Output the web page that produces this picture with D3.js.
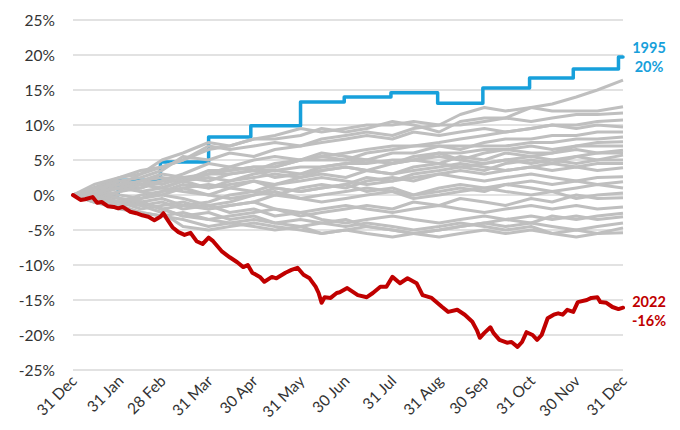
<!DOCTYPE html>
<html>
<head>
<meta charset="utf-8">
<script src="https://cdn.jsdelivr.net/npm/d3@7"></script>
<style>
  body { margin: 0; background: #fff; }
  text { font-family: Lato, "Open Sans", sans-serif; }
  .tick { font-size: 15.5px; fill: #333; }
</style>
</head>
<body>
<script>
// y-axis ticks (%)
const yTicks = [-25, -20, -15, -10, -5, 0, 5, 10, 15, 20, 25];
// x-axis ticks: day of year and label
const monthDays = [0, 31, 59, 90, 120, 151, 181, 212, 243, 273, 304, 334, 365];
const monthLabels = ["31 Dec", "31 Jan", "28 Feb", "31 Mar", "30 Apr", "31 May", "30 Jun",
                     "31 Jul", "31 Aug", "30 Sep", "31 Oct", "30 Nov", "31 Dec"];

// 1995: step series (day the level starts, level %)
const blueDays = [0, 30, 58, 90, 118, 151, 180, 211, 242, 272, 303, 332, 362, 365];
const blueVals = [0, 2.1, 4.7, 8.3, 9.9, 13.3, 14.0, 14.6, 13.1, 15.3, 16.7, 18.0, 19.7, 19.7];

// 2022
const redDays = [0, 5, 8, 13, 16, 19, 23, 27, 30, 33, 38, 42, 46, 50, 54, 58, 60, 62, 66, 70,
  74, 78, 82, 86, 90, 93, 99, 104, 109, 113, 116, 119, 124, 127, 132, 135, 141, 145, 149, 153,
  157, 161, 163, 165, 167, 171, 175, 177, 182, 189, 195, 199, 204, 208, 212, 217, 222, 228, 232,
  238, 245, 249, 255, 260, 265, 268, 270, 273, 277, 279, 283, 288, 291, 295, 298, 301, 305, 308,
  311, 315, 319, 322, 325, 328, 332, 335, 341, 344, 348, 350, 354, 358, 362, 365];
const redVals = [0, -0.7, -0.6, -0.3, -1.1, -1.0, -1.6, -1.7, -1.9, -1.7, -2.4, -2.6, -2.9, -3.1,
  -3.6, -3.1, -2.6, -3.3, -4.6, -5.3, -5.7, -5.4, -6.6, -7.0, -6.1, -6.6, -8.1, -8.9, -9.6, -10.3,
  -10.0, -11.1, -11.7, -12.4, -11.7, -11.9, -11.1, -10.7, -10.4, -11.4, -11.9, -13.1, -14.0, -15.4,
  -14.6, -14.7, -14.0, -13.9, -13.3, -14.3, -14.6, -14.0, -13.1, -13.1, -11.7, -12.6, -11.9, -12.6,
  -14.3, -14.7, -16.0, -16.7, -16.4, -17.1, -18.1, -19.3, -20.4, -19.7, -18.9, -19.7, -20.7, -21.1,
  -21.0, -21.7, -21.0, -19.6, -20.0, -20.7, -20.0, -17.6, -17.1, -16.9, -17.1, -16.4, -16.7, -15.3,
  -15.0, -14.7, -14.6, -15.3, -15.4, -16.0, -16.3, -16.1];

// other years (grey), sampled roughly every two weeks
const greyDays = [0, 14, 31, 45, 59, 73, 90, 104, 120, 134, 151, 165, 181, 195, 212, 226, 243,
  257, 273, 287, 304, 318, 334, 348, 365];
const greyVals = [
  [0, 1, 2.5, 3, 5, 6, 7.5, 7, 8, 8.5, 9.5, 9, 9.5, 10, 10, 10.5, 10, 11.5, 12.5, 12, 12.5, 13, 14, 15, 16.4],
  [0, 0.5, 1.5, 3, 4, 5, 6.5, 7, 8, 8, 8.5, 9.5, 9, 9.5, 10.5, 10, 9, 10.5, 11, 11, 12.5, 12, 12, 12, 12.6],
  [0, 1, 2, 2.5, 3.5, 5.5, 5, 6, 5.5, 6.5, 7, 8, 8.5, 9, 8.5, 9.5, 10, 10, 10.5, 11, 10.5, 11, 11.5, 11.5, 11.7],
  [0, 0.5, 1, 2, 1.5, 2.5, 3, 4, 3.5, 4.5, 5, 5.5, 6, 6.5, 7, 7, 7.5, 8, 8.5, 9, 9.5, 10, 10, 10.5, 10.7],
  [0, -0.5, 0.5, 1, 2, 2, 3, 3.5, 4, 4, 5, 5.5, 5, 6, 6.5, 7, 7, 6.5, 7.5, 8, 8, 8.5, 8.5, 9, 9],
  [0, 0, 1, 1, 2, 2, 3.5, 3.5, 4, 4, 5, 5, 5, 5, 6, 6, 7, 7, 7, 7, 7.5, 7.5, 8, 8, 8.3],
  [0, 1, 1.5, 0.5, 1, 2, 2.5, 2, 3, 3.5, 3, 4, 4.5, 5, 4.5, 5.5, 6, 5, 6, 6.5, 7, 6.5, 7, 7.5, 7.6],
  [0, -0.5, -1, 0, 0.5, 1.5, 1, 2, 2.5, 3, 2.5, 3.5, 4, 3.5, 4.5, 5, 4.5, 5.5, 5, 6, 5.5, 6, 6.5, 6, 6.4],
  [0, 0.5, 0, -0.5, 0.5, 1, 0, 1, 2, 1.5, 2.5, 3, 2.5, 3.5, 3, 4, 4.5, 4, 4.5, 5, 4.5, 5, 5.5, 5, 5.7],
  [0, 1, 2, 1.5, 2, 3, 4.5, 4, 5, 5.5, 5, 6, 5.5, 5, 4.5, 5, 5.5, 5, 4.5, 5, 5.5, 5, 4.5, 5, 5],
  [0, -1, -1.5, -1, -2, -1.5, -1, 0, 0.5, 0, 1, 1.5, 1, 2, 2.5, 2, 3, 3.5, 3, 3.5, 4, 3.5, 4, 3.5, 3.9],
  [0, 0.5, 1, 0.5, 0, 1, 1.5, 1, 0.5, 1.5, 2, 2.5, 2, 1.5, 2, 2.5, 3, 2.5, 2, 2.5, 3, 2.5, 2, 2.5, 2.6],
  [0, -0.5, -1, -2, -1.5, -1, -2, -1.5, -1, 0, -0.5, 0, 0.5, 1, 0.5, 0, 1, 1.5, 1, 1.5, 2, 1.5, 2, 1.5, 1.9],
  [0, 0.5, 1, 2, 2.5, 2, 1, 1.5, 2, 1, 0.5, 1, 1.5, 0.5, 1, 0, 0.5, 1, 0.5, 1.5, 1, 0.5, 1, 1.5, 1.0],
  [0, -1, -2, -2.5, -3, -2.5, -3.5, -3, -2.5, -2, -3, -2.5, -2, -1.5, -2, -1, -1.5, -0.5, -1, -1.5, -0.5, -1, 0, -0.5, -0.4],
  [0, 0.5, -0.5, -1, -0.5, -1.5, -2, -1.5, -1, -2, -2.5, -2, -1.5, -2, -2.5, -2, -1.5, -2, -2.5, -2, -1.5, -2, -1.5, -2, -1.7],
  [0, -0.5, -1.5, -1, -2, -3, -3.5, -4, -3.5, -4, -4.5, -4, -3.5, -4.5, -5, -5.5, -5, -4.5, -4, -3.5, -4, -3, -3.5, -3, -2.6],
  [0, 0, -0.5, -1.5, -1, -2, -1.5, -2.5, -2, -3, -2.5, -3.5, -4, -3.5, -3, -3.5, -4, -3.5, -3, -3.5, -3, -3.5, -3, -3.5, -3.1],
  [0, -1, -1.5, -2.5, -3, -3.5, -4.5, -4, -4.5, -5, -4.5, -5.5, -5, -5.5, -6, -5.5, -5, -4.5, -4, -4.5, -4, -4.5, -5, -4.5, -4],
  [0, 0.5, -0.5, -1, -2, -3, -2.5, -3.5, -3, -4, -3.5, -4, -4.5, -4, -4.5, -5, -4.5, -4, -4.5, -5, -4.5, -5.5, -6, -5.5, -4.7],
  [0, -0.5, -1, -1.5, -2.5, -4.5, -5, -4.5, -4, -4.5, -5, -5.5, -5, -4.5, -5, -5.5, -6, -5.5, -5, -5.5, -5, -5.5, -5, -5.5, -5.4],
  [0, 0.5, 1, 1.5, 1, 2, 3, 3, 3.5, 3.5, 4, 4, 4.5, 4.5, 5, 5, 6, 6, 6.5, 6.5, 6, 6, 7, 7, 7],
  [0, 1, 1.5, 2, 3, 2.5, 2, 3, 3.5, 2.5, 3, 3.5, 4, 3.5, 3, 3.5, 4, 4.5, 4, 3.5, 4, 4.5, 4, 4.5, 4.5],
  [0, -0.5, 0.5, 1.5, 1, 0.5, 0, -0.5, 0, 0.5, -0.5, -1, -0.5, 0, 0.5, -0.5, 0, 0.5, 1, 0.5, 0, 0.5, -0.5, 0, 0.3],
  [0, 1.5, 2.5, 3.5, 4, 5, 7, 6.5, 7, 7.5, 7, 7.5, 8, 8.5, 8, 9, 8.5, 9, 9.5, 9, 9.5, 10, 9.5, 10, 9.7],
  [0, 0, -1, -0.5, 0, -0.5, -1.5, -1, 0, 1, 0.5, 1, 1.5, 2.5, 2, 3, 3.5, 4, 3.5, 4.5, 5, 4.5, 5.5, 6, 6]
];

const width = 680, height = 430;
const svg = d3.select("body").append("svg").attr("width", width).attr("height", height);

const x = d3.scaleLinear().domain([0, 365]).range([73, 623]);
const y = d3.scaleLinear().domain([-25, 25]).range([370, 20]);

// gridlines
svg.append("g").selectAll("line").data(yTicks).join("line")
  .attr("x1", 73).attr("x2", 623)
  .attr("y1", d => y(d)).attr("y2", d => y(d))
  .attr("stroke", "#d9d9d9").attr("stroke-width", 1.5);

// y labels
svg.append("g").selectAll("text").data(yTicks).join("text")
  .attr("class", "tick")
  .attr("x", 55).attr("y", d => y(d)).attr("dy", "0.36em")
  .attr("text-anchor", "end")
  .text(d => d + "%");

// x labels
svg.append("g").selectAll("text").data(monthDays).join("text")
  .attr("class", "tick")
  .attr("text-anchor", "end")
  .attr("transform", d => "translate(" + (x(d) + 5) + ",382) rotate(-45)")
  .text((d, i) => monthLabels[i]);

const line = d3.line().x(d => x(d[0])).y(d => y(d[1]));

// 1995
svg.append("path")
  .datum(blueDays.map((d, i) => [d, blueVals[i]]))
  .attr("d", line.curve(d3.curveStepAfter))
  .attr("fill", "none").attr("stroke", "#17a0db").attr("stroke-width", 3.5)
  .attr("stroke-linejoin", "round").attr("stroke-linecap", "round");
line.curve(d3.curveLinear);

// other years
svg.append("g").selectAll("path").data(greyVals).join("path")
  .attr("d", vals => line(vals.map((v, i) => [greyDays[i], v])))
  .attr("fill", "none").attr("stroke", "#bfbfbf").attr("stroke-width", 3)
  .attr("stroke-linejoin", "round");

// 2022
svg.append("path")
  .datum(redDays.map((d, i) => [d, redVals[i]]))
  .attr("d", line)
  .attr("fill", "none").attr("stroke", "#c00000").attr("stroke-width", 4)
  .attr("stroke-linejoin", "round").attr("stroke-linecap", "round");

// end labels
function endLabel(yr, val, color, ty) {
  const t = svg.append("text").attr("x", 649).attr("text-anchor", "middle")
    .attr("font-size", 14.5).attr("font-weight", "bold").attr("fill", color);
  t.append("tspan").attr("x", 649).attr("y", ty).text(yr);
  t.append("tspan").attr("x", 649).attr("y", ty + 19).text(Math.round(val) + "%");
}
endLabel("1995", blueVals[blueVals.length - 1], "#17a0db", 53);
endLabel("2022", redVals[redVals.length - 1], "#c00000", 307);
</script>
</body>
</html>
